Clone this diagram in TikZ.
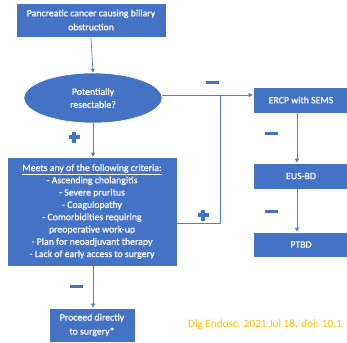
\documentclass[tikz,border=0pt]{standalone}
\usepackage{fontspec}
\setmainfont{Carlito}
\newfontfamily\boxfont[FakeBold=0.7]{Carlito}
\usetikzlibrary{shapes.geometric,arrows.meta}
\definecolor{boxblue}{HTML}{4472C4}
\definecolor{lineblue}{HTML}{4F7FD0}
\definecolor{signblue}{HTML}{4472C4}
\definecolor{gold}{HTML}{FFC000}
\tikzset{
  box/.style={rectangle, fill=boxblue, draw=white, line width=0.6pt, inner sep=0pt, text=white, align=center, font=\boxfont\fontsize{9.8}{14}\selectfont},
  conn/.style={draw=lineblue, line width=0.7pt},
  arr/.style={conn, -{Triangle[length=4pt,width=4pt]}},
  sign/.style={fill=signblue}
}
\newcommand{\plussign}[2]{\fill[sign] (#1-5.5,#2-1.7) rectangle (#1+5.5,#2+1.7); \fill[sign] (#1-1.7,#2-5.5) rectangle (#1+1.7,#2+5.5);}
\newcommand{\minussign}[2]{\fill[sign] (#1-6.5,#2-1.5) rectangle (#1+6.5,#2+1.5);}
\begin{document}
\begin{tikzpicture}[x=1pt,y=-1pt]
\useasboundingbox (0,0) rectangle (347,342);
\clip (0,0) rectangle (347,342);
\node[box, minimum width=150pt, minimum height=34pt] (top) at (91,20) {Pancreatic cancer causing biliary\\obstruction};
\node[ellipse, fill=boxblue, draw=white, line width=0.6pt, inner sep=0pt, minimum width=138pt, minimum height=50pt, text=white, align=center, font=\boxfont\fontsize{9.8}{13}\selectfont] (ell) at (93,98) {Potentially\\resectable?};
\node[box, minimum width=170pt, minimum height=109pt, font=\boxfont\fontsize{9.8}{12.3}\selectfont] (big) at (92,211.5) {\underline{Meets any of the following criteria:}\\- Ascending cholangitis\\- Severe pruritus\\- Coagulopathy\\- Comorbidities requiring\\preoperative work-up\\- Plan for neoadjuvant therapy\\- Lack of early access to surgery};
\node[box, minimum width=86pt, minimum height=34pt] (proc) at (92,325) {Proceed directly\\to surgery*};
\node[box, minimum width=96pt, minimum height=26pt] (ercp) at (301,100) {ERCP with SEMS};
\node[box, minimum width=96pt, minimum height=26pt] (eus) at (301,176) {EUS-BD};
\node[box, minimum width=96pt, minimum height=25pt] (ptbd) at (301,244.5) {PTBD};
\node[anchor=west, inner sep=0pt, text=gold, font=\fontsize{11.2}{13}\selectfont] (cite) at (188,325) {Dig Endosc. 2021 Jul 18. doi: 10.1};
\coordinate (j1) at (220,95);
\coordinate (j2) at (220,223);
\draw[arr] (top.south) -- (ell.north);
\draw[arr] (ell.south) -- (big.north -| ell.south);
\draw[arr] (big.south -| ell.south) -- (proc.north -| ell.south);
\draw[arr] (ell.east |- j1) -- (ercp.west |- j1);
\draw[conn] (big.east |- j2) -- (j2) -- (j1);
\draw[arr] (ercp.south -| 297,0) -- (eus.north -| 297,0);
\draw[arr] (eus.south -| 297,0) -- (ptbd.north -| 297,0);
\plussign{74}{137}
\plussign{203}{215}
\minussign{212}{83}
\minussign{271}{133}
\minussign{271}{211}
\minussign{76}{286}
\end{tikzpicture}
\end{document}
